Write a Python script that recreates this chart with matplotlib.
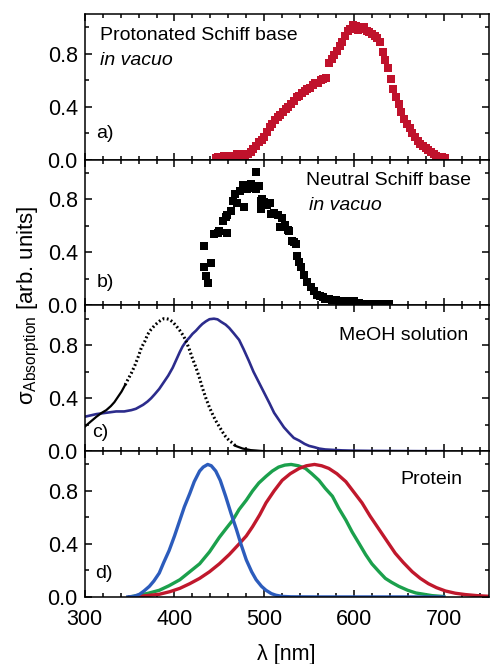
import matplotlib
matplotlib.use("Agg")
import matplotlib.pyplot as plt
from matplotlib.ticker import MultipleLocator

plt.rcParams['font.family'] = ['Liberation Sans', 'DejaVu Sans']
plt.rcParams['mathtext.fontset'] = 'custom'
plt.rcParams['mathtext.rm'] = 'Liberation Sans'
plt.rcParams['mathtext.it'] = 'Liberation Sans:italic'

# a) protonated Schiff base in vacuo (red squares)
wl_a = [446, 449, 452, 455, 458, 461, 464, 467, 470, 473, 476, 479, 482, 485, 488,
        491, 494, 497, 500, 503, 506, 509, 512, 515, 518, 521, 524, 527, 530, 533,
        536, 539, 542, 545, 548, 551, 554, 557, 560, 563, 566, 569, 572, 575, 578,
        581, 584, 587, 590, 593, 596, 599, 602, 605, 608, 611, 614, 617, 620, 623,
        626, 629, 632, 635, 638, 641, 644, 647, 650, 653, 656, 659, 662, 665, 668,
        671, 674, 677, 680, 683, 686, 689, 692, 695, 698, 701]
abs_a = [0.01, 0.02, 0.02, 0.03, 0.02, 0.03, 0.03, 0.02, 0.04, 0.04, 0.03, 0.03, 0.04, 0.06, 0.08,
         0.10, 0.13, 0.15, 0.17, 0.21, 0.25, 0.27, 0.30, 0.32, 0.34, 0.36, 0.38, 0.40, 0.42, 0.44,
         0.47, 0.48, 0.50, 0.52, 0.53, 0.54, 0.56, 0.58, 0.58, 0.60, 0.61, 0.62, 0.73, 0.76, 0.79,
         0.82, 0.86, 0.89, 0.93, 0.97, 0.99, 1.02, 1.01, 0.98, 0.99, 1.00, 0.97, 0.96, 0.95, 0.93,
         0.92, 0.89, 0.81, 0.75, 0.69, 0.61, 0.53, 0.47, 0.42, 0.36, 0.31, 0.27, 0.24, 0.20, 0.17,
         0.14, 0.12, 0.10, 0.09, 0.07, 0.06, 0.04, 0.03, 0.02, 0.02, 0.01]

# b) neutral Schiff base in vacuo (black squares)
wl_b = [433, 433, 435, 437, 441, 444, 448, 450, 454, 457, 459, 459, 463, 465, 467,
        470, 473, 476, 478, 481, 483, 485, 488, 491, 491, 494, 496, 496, 498, 500,
        503, 506, 508, 511, 515, 518, 520, 523, 526, 528, 531, 533, 535, 537, 539,
        541, 544, 548, 552, 556, 559, 562, 565, 568, 572, 576, 580, 584, 587, 591,
        596, 600, 606, 611, 617, 622, 628, 633, 639]
abs_b = [0.29, 0.45, 0.22, 0.17, 0.32, 0.54, 0.55, 0.56, 0.64, 0.67, 0.68, 0.55, 0.71, 0.79, 0.84,
         0.77, 0.86, 0.91, 0.74, 0.88, 0.90, 0.92, 0.89, 1.01, 0.88, 0.90, 0.79, 0.73, 0.80, 0.78,
         0.76, 0.77, 0.69, 0.70, 0.68, 0.59, 0.66, 0.61, 0.57, 0.56, 0.49, 0.48, 0.46, 0.37, 0.33,
         0.29, 0.23, 0.18, 0.14, 0.11, 0.08, 0.07, 0.06, 0.05, 0.05, 0.04, 0.04, 0.03, 0.03, 0.03,
         0.02, 0.03, 0.02, 0.01, 0.01, 0.01, 0.01, 0.01, 0.01]

# c) MeOH solution: black (dotted) and navy curves
wl_c_k = [300, 306, 313, 319, 324, 329, 333, 337, 341, 345, 348, 352, 356, 360, 363,
          367, 370, 374, 378, 382, 385, 388, 391, 394, 398, 402, 406, 410, 413, 417,
          420, 424, 428, 431, 435, 439, 443, 446, 450, 454, 457, 461, 465, 468, 472,
          476, 480, 485, 491, 500]
abs_c_k = [0.185, 0.22, 0.26, 0.29, 0.31, 0.34, 0.37, 0.41, 0.45, 0.50, 0.54, 0.59, 0.65, 0.72, 0.78,
           0.83, 0.88, 0.92, 0.95, 0.975, 0.99, 1.0, 1.0, 0.995, 0.976, 0.945, 0.91, 0.87, 0.83, 0.76,
           0.70, 0.63, 0.55, 0.48, 0.40, 0.33, 0.27, 0.23, 0.185, 0.14, 0.11, 0.08, 0.06, 0.04, 0.03,
           0.02, 0.015, 0.008, 0.005, 0.0]
wl_c_b = [300, 313, 324, 335, 344, 352, 357, 361, 365, 370, 374, 378, 383, 388, 393,
          398, 402, 406, 409, 413, 417, 420, 424, 428, 431, 435, 439, 444, 448, 452,
          457, 461, 466, 472, 477, 483, 488, 494, 500, 506, 511, 517, 522, 528, 533,
          539, 545, 550, 556, 561, 568, 576, 587, 598, 620, 650, 680, 700]
abs_c_b = [0.26, 0.28, 0.29, 0.30, 0.30, 0.31, 0.32, 0.335, 0.35, 0.375, 0.40, 0.43, 0.47, 0.52, 0.57,
           0.63, 0.69, 0.75, 0.79, 0.83, 0.86, 0.885, 0.91, 0.94, 0.96, 0.98, 0.996, 1.0, 0.995, 0.976,
           0.955, 0.93, 0.89, 0.84, 0.77, 0.68, 0.60, 0.52, 0.44, 0.36, 0.29, 0.23, 0.18, 0.135, 0.10,
           0.08, 0.055, 0.04, 0.03, 0.02, 0.013, 0.01, 0.006, 0.004, 0.002, 0.001, 0.0, 0.0]

# d) protein: blue, green, red
wl_d_b = [348, 355, 361, 366, 372, 377, 383, 388, 394, 400, 406, 411, 417, 422, 428,
          432, 437, 441, 446, 451, 457, 463, 469, 474, 480, 486, 491, 497, 502, 508,
          513, 520, 530, 560, 600, 650, 700]
abs_d_b = [0.0, 0.005, 0.02, 0.045, 0.08, 0.12, 0.18, 0.26, 0.35, 0.46, 0.58, 0.68, 0.78, 0.87, 0.95,
           0.98, 1.0, 0.99, 0.95, 0.88, 0.76, 0.63, 0.51, 0.40, 0.28, 0.19, 0.13, 0.08, 0.05, 0.025,
           0.013, 0.004, 0.001, 0.0, 0.0, 0.0, 0.0]
wl_d_g = [350, 361, 372, 383, 394, 406, 417, 428, 439, 450, 458, 465, 472, 480, 487,
          494, 502, 509, 516, 523, 530, 538, 546, 553, 561, 568, 576, 583, 591, 598,
          606, 613, 620, 628, 635, 642, 650, 660, 669, 678, 687, 700]
abs_d_g = [0.0, 0.013, 0.03, 0.05, 0.085, 0.13, 0.19, 0.25, 0.34, 0.45, 0.52, 0.58, 0.66, 0.73, 0.80,
           0.86, 0.91, 0.95, 0.98, 0.995, 1.0, 0.99, 0.97, 0.93, 0.88, 0.82, 0.76, 0.67, 0.58, 0.49,
           0.40, 0.32, 0.25, 0.19, 0.14, 0.11, 0.08, 0.05, 0.03, 0.02, 0.01, 0.003]
wl_d_r = [350, 366, 383, 395, 406, 417, 428, 439, 450, 461, 472, 480, 487, 495, 502,
          511, 520, 529, 539, 547, 556, 564, 572, 581, 591, 600, 609, 618, 628, 637,
          646, 655, 665, 674, 683, 692, 702, 713, 724, 737, 750]
abs_d_r = [0.0, 0.008, 0.02, 0.04, 0.065, 0.10, 0.14, 0.19, 0.25, 0.32, 0.40, 0.46, 0.53, 0.62, 0.71,
           0.80, 0.88, 0.93, 0.97, 0.99, 1.0, 0.99, 0.97, 0.93, 0.87, 0.79, 0.71, 0.61, 0.51, 0.42,
           0.33, 0.26, 0.19, 0.14, 0.10, 0.07, 0.045, 0.028, 0.018, 0.01, 0.005]

fig, axes = plt.subplots(4, 1, sharex=True, figsize=(4.9, 6.64), dpi=100)
fig.subplots_adjust(left=0.173, right=0.997, top=0.979, bottom=0.101, hspace=0)
ax_a, ax_b, ax_c, ax_d = axes

ax_a.plot(wl_a, abs_a, 's', color='#c0122c', ms=6, mew=0)
ax_b.plot(wl_b, abs_b, 's', color='black', ms=6, mew=0)

ax_c.plot(wl_c_b, abs_c_b, '-', color='#2c2c8c', lw=1.9)
ax_c.plot(wl_c_k[:10], abs_c_k[:10], '-', color='black', lw=1.6)
ax_c.plot(wl_c_k[9:44], abs_c_k[9:44], color='black', lw=2.2, ls=(0, (0.6, 0.8)))
ax_c.plot(wl_c_k[43:], abs_c_k[43:], '-', color='black', lw=1.6)

ax_d.plot(wl_d_g, abs_d_g, '-', color='#1ba04c', lw=2.4)
ax_d.plot(wl_d_r, abs_d_r, '-', color='#c0182c', lw=2.4)
ax_d.plot(wl_d_b, abs_d_b, '-', color='#2c5cbc', lw=2.4)

for ax in axes:
    ax.set_xlim(300, 750)
    ax.set_ylim(0, 1.1)
    ax.set_yticks([0.0, 0.4, 0.8])
    ax.yaxis.set_minor_locator(MultipleLocator(0.2))
    ax.xaxis.set_major_locator(MultipleLocator(100))
    ax.xaxis.set_minor_locator(MultipleLocator(20))
    ax.tick_params(which='both', direction='in', top=True, right=True, width=1.1,
                   labelsize=15.5)
    ax.tick_params(which='major', length=5)
    ax.tick_params(which='minor', length=3)
    ax.tick_params(axis='x', pad=9)
    ax.tick_params(axis='y', pad=5)
    for s in ax.spines.values():
        s.set_linewidth(1.1)

txt = dict(fontsize=14, va='center')
ax_a.text(317, 0.94, 'Protonated Schiff base', **txt)
ax_a.text(317, 0.75, 'in vacuo', style='italic', **txt)
ax_a.text(313, 0.20, 'a)', **txt)

ax_b.text(731, 0.945, 'Neutral Schiff base', ha='right', **txt)
ax_b.text(550, 0.757, 'in vacuo', style='italic', **txt)
ax_b.text(313, 0.17, 'b)', **txt)

ax_c.text(583, 0.876, 'MeOH solution', **txt)
ax_c.text(308, 0.14, 'c)', **txt)

ax_d.text(652, 0.89, 'Protein', **txt)
ax_d.text(311, 0.18, 'd)', **txt)

ax_d.set_xlabel('λ [nm]', fontsize=15.5, labelpad=10)
fig.text(0.06, 0.54, r'σ$_{\mathrm{Absorption}}$ [arb. units]', rotation=90,
         ha='center', va='center', fontsize=16)

fig.savefig('out.png', dpi=100)
